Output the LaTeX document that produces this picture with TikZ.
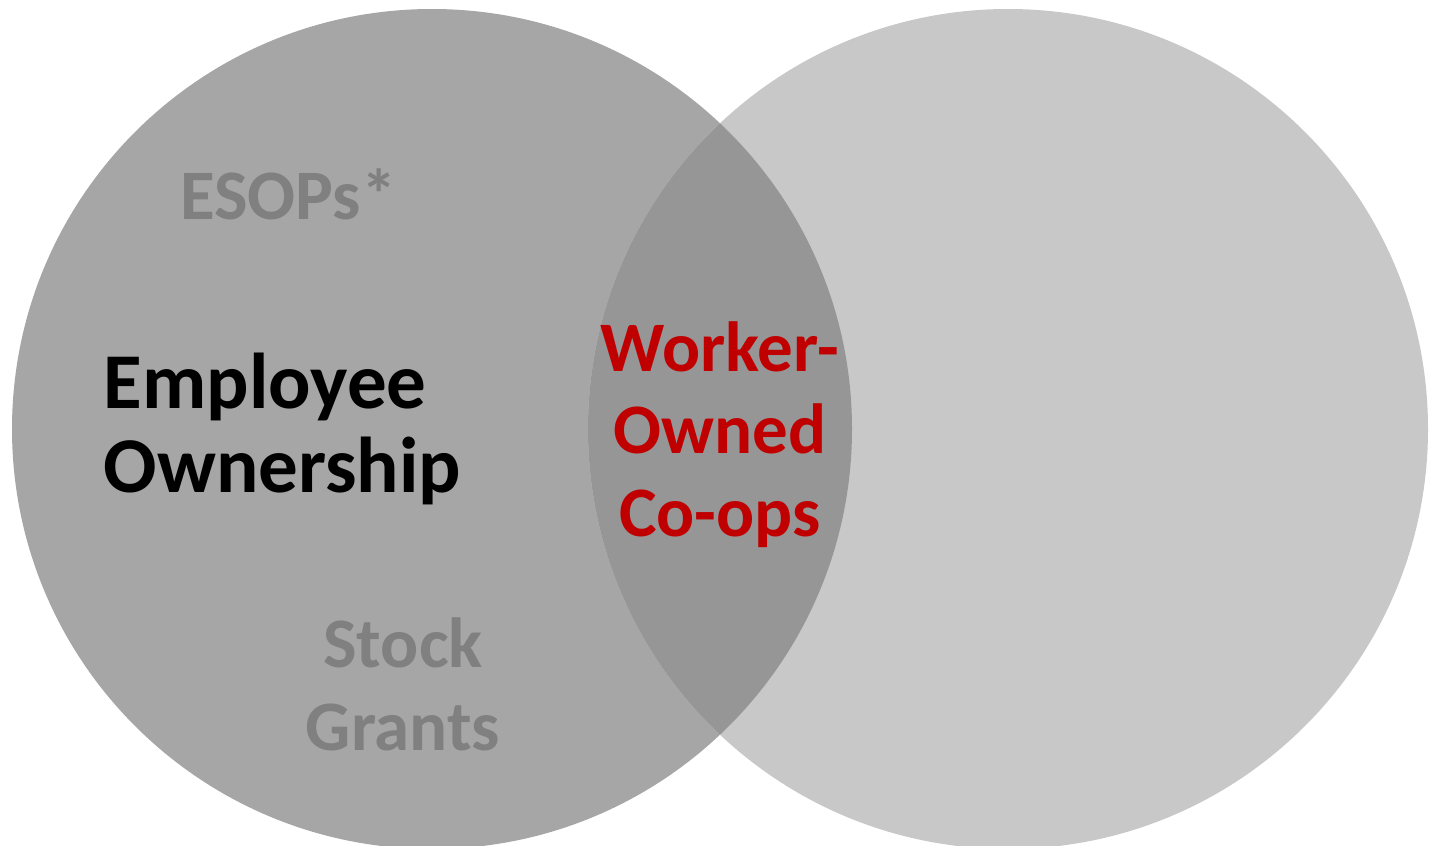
\documentclass[tikz,border=0pt]{standalone}
\usepackage{fontspec}
\setmainfont{Carlito}
\usepackage{xcolor}
\definecolor{leftgray}{HTML}{A6A6A6}
\definecolor{rightgray}{HTML}{C8C8C8}
\definecolor{midgray}{HTML}{969696}
\definecolor{softgray}{HTML}{808080}
\definecolor{coopred}{HTML}{C00000}
\tikzset{
  label/.style={font=\fontsize{20.2}{23.4}\selectfont\bfseries, inner sep=0pt},
  biglabel/.style={label, font=\fontsize{22.5}{23.9}\selectfont\bfseries},
}

\begin{document}
\begin{tikzpicture}

                \useasboundingbox (0,0) rectangle (14.29,-8.46);

                % Circles
                \fill[leftgray] (4.32,-4.29) circle (4.2);
                \fill[rightgray] (10.08,-4.29) circle (4.2);
                \begin{scope}
                    \clip (4.32,-4.29) circle (4.2);
                    \fill[midgray] (10.08,-4.29) circle (4.2);
                \end{scope}

                % Labels (base = last line)
                \node at (2.885,-2.19) (esops) [label, anchor=base, text=softgray] {ESOPs*};
                \node at (1.03,-4.92) (employee) [biglabel, anchor=base west, align=left] {Employee\\Ownership};
                \node at (7.20,-5.36) (coops) [label, anchor=base, align=center, text=coopred] {Worker-\\Owned\\Co-ops};
                \node at (4.03,-7.50) (stock) [label, anchor=base, align=center, text=softgray] {Stock\\Grants};

            \end{tikzpicture}
\end{document}
